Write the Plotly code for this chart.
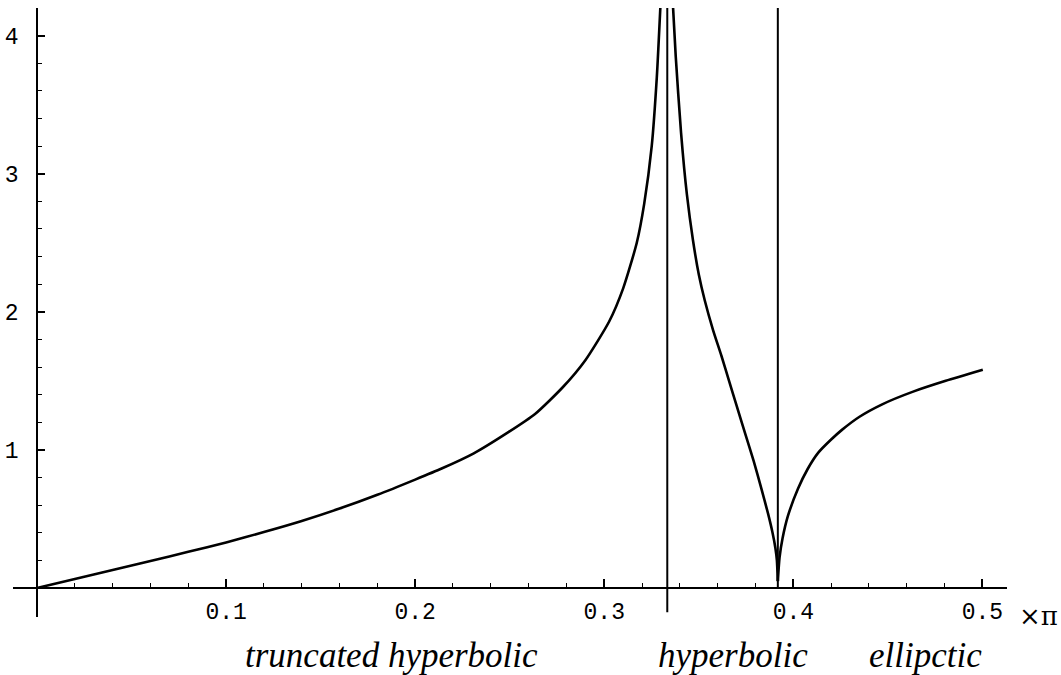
import plotly.graph_objects as go

# ---- data (x in units of pi) ----
branch_a_x = [0.0, 0.02, 0.04, 0.06, 0.08, 0.10, 0.12, 0.14, 0.16, 0.18, 0.20,
              0.214, 0.231, 0.2495, 0.2634, 0.2778, 0.290, 0.3026, 0.310,
              0.3172, 0.3211, 0.3251, 0.3278, 0.3300]
branch_a_y = [0.0, 0.065, 0.13, 0.195, 0.262, 0.33, 0.405, 0.485, 0.575, 0.675, 0.785,
              0.865, 0.975, 1.13, 1.26, 1.45, 1.65, 1.93, 2.17,
              2.5, 2.78, 3.2, 3.7, 4.3]

branch_b_x = [0.3360, 0.3378, 0.3406, 0.3437, 0.3469, 0.3500, 0.3532, 0.3575,
              0.3620, 0.3660, 0.3700, 0.3745, 0.3790, 0.3831, 0.3866, 0.3890,
              0.3905, 0.3913, 0.3918]
branch_b_y = [4.3, 3.85, 3.30, 2.85, 2.52, 2.27, 2.08, 1.87,
              1.68, 1.50, 1.32, 1.12, 0.92, 0.72, 0.54, 0.40,
              0.29, 0.20, 0.05]

branch_c_x = [0.3918, 0.3927, 0.3943, 0.3971, 0.4025, 0.4075, 0.4132, 0.4200,
              0.4257, 0.4350, 0.4470, 0.4630, 0.4806, 0.5002]
branch_c_y = [0.05, 0.22, 0.36, 0.52, 0.72, 0.86, 0.98, 1.075,
              1.145, 1.24, 1.33, 1.42, 1.50, 1.58]

asym1_x = [1/3, 1/3]
asym1_y = [-0.175, 4.3]
asym2_x = [0.3918, 0.3918]
asym2_y = [0.0, 4.3]

x_tick_vals = [0.1, 0.2, 0.3, 0.4, 0.5]
x_tick_text = ["0.1", "0.2", "0.3", "0.4", "0.5"]
y_tick_vals = [1, 2, 3, 4]
y_tick_text = ["1", "2", "3", "4"]

region_labels = ["truncated hyperbolic", "hyperbolic", "ellipctic"]
region_label_px = [391, 733, 925]   # horizontal centres in the picture (pixels)

# ---- figure ----
X_RANGE = [-0.0127, 0.513]
Y_RANGE = [-0.21, 4.2]
M_L, M_R, M_T, M_B = 13, 54, 8, 58
W, H = 1061, 675
plot_w = W - M_L - M_R
plot_h = H - M_T - M_B

fig = go.Figure()
line_style = dict(color="black", width=2.6, shape="spline", smoothing=0.6)
for xs, ys in [(branch_a_x, branch_a_y), (branch_b_x, branch_b_y), (branch_c_x, branch_c_y)]:
    fig.add_trace(go.Scatter(x=xs, y=ys, mode="lines", line=line_style,
                             hoverinfo="skip", showlegend=False))
for xs, ys in [(asym1_x, asym1_y), (asym2_x, asym2_y)]:
    fig.add_trace(go.Scatter(x=xs, y=ys, mode="lines",
                             line=dict(color="black", width=2.0),
                             hoverinfo="skip", showlegend=False))

x_pos_y0 = (0 - Y_RANGE[0]) / (Y_RANGE[1] - Y_RANGE[0])
y_pos_x0 = (0 - X_RANGE[0]) / (X_RANGE[1] - X_RANGE[0])

minor_x = [round(0.02 * i, 2) for i in range(1, 26) if i % 5 != 0]
minor_y = [round(0.2 * i, 1) for i in range(1, 21) if i % 5 != 0]

tick_font = dict(family="Liberation Mono, Courier New, monospace", size=23, color="black")

fig.update_layout(
    width=W, height=H,
    margin=dict(l=M_L, r=M_R, t=M_T, b=M_B),
    paper_bgcolor="white", plot_bgcolor="white",
    xaxis=dict(range=X_RANGE, anchor="free", position=x_pos_y0,
               showline=True, linecolor="black", linewidth=1.6,
               showgrid=False, zeroline=False,
               tickmode="array", tickvals=x_tick_vals, ticktext=x_tick_text,
               ticks="inside", ticklen=8, tickwidth=1.5, tickcolor="black",
               ticklabelstandoff=3,
               tickfont=tick_font, automargin=False,
               minor=dict(tickvals=minor_x, ticks="inside", ticklen=4,
                          tickwidth=1.2, tickcolor="black", showgrid=False)),
    yaxis=dict(range=Y_RANGE, anchor="free", position=y_pos_x0,
               showline=True, linecolor="black", linewidth=1.6,
               showgrid=False, zeroline=False,
               tickmode="array", tickvals=y_tick_vals, ticktext=y_tick_text,
               ticks="inside", ticklen=7, tickwidth=1.5, tickcolor="black",
               ticklabelstandoff=13,
               tickfont=tick_font, automargin=False,
               minor=dict(tickvals=minor_y, ticks="inside", ticklen=4,
                          tickwidth=1.2, tickcolor="black", showgrid=False)),
)

def px_to_paper_x(px):
    return (px - M_L) / plot_w

def px_to_paper_y(py):
    return (H - M_B - py) / plot_h

fig.add_annotation(x=px_to_paper_x(1038), y=px_to_paper_y(616), xref="paper", yref="paper",
                   xanchor="center", yanchor="middle",
                   text="×π", showarrow=False,
                   font=dict(family="DejaVu Serif, Liberation Serif, serif", size=26, color="black"))

for lab, lx in zip(region_labels, region_label_px):
    fig.add_annotation(x=px_to_paper_x(lx), y=px_to_paper_y(655), xref="paper", yref="paper",
                       xanchor="center", yanchor="middle",
                       text=f"<i>{lab}</i>", showarrow=False,
                       font=dict(family="Liberation Serif, Times New Roman, serif",
                                 size=35, color="black"))

fig.write_html("out.html", config={"displayModeBar": False},
               post_script="document.body.style.margin='0px';")
